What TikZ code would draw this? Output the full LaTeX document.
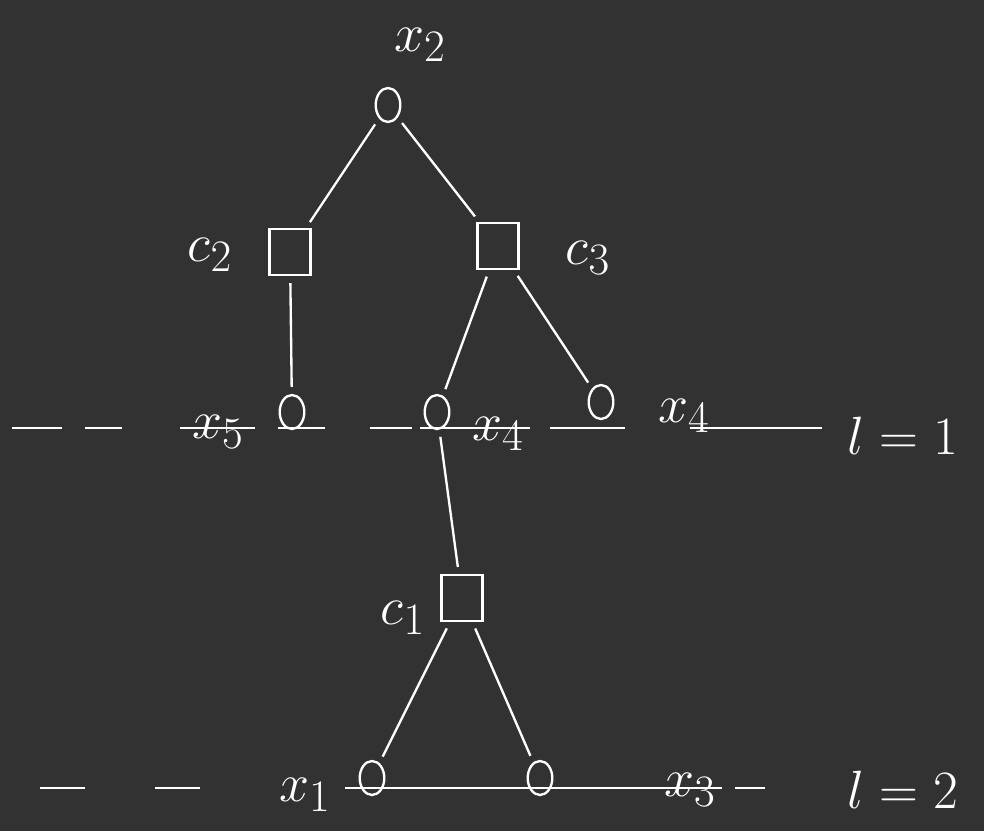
\documentclass[tikz,border=0pt]{standalone}
\usetikzlibrary{shapes.geometric}
\definecolor{board}{RGB}{50,50,50}
\tikzset{
  var/.style={draw=white, ellipse, line width=2pt, minimum width=21pt, minimum height=29pt, inner sep=0pt},
  fac/.style={draw=white, rectangle, line width=2pt, minimum width=35pt, minimum height=39pt, inner sep=0pt},
  lbl/.style={text=white, font=\Huge, scale=1.85},
  edge/.style={draw=white, line width=2pt, shorten >=6pt, shorten <=6pt},
  level/.style={draw=white, line width=1.5pt}
}
\begin{document}
\begin{tikzpicture}[x=0.03cm, y=-0.03cm]
  \fill[board] (0,0) rectangle (984,831);

  % variables and factors
  \node[var] (x2) at (388,105) {};
  \node[fac] (c2) at (290,252) {};
  \node[fac] (c3) at (498,246) {};
  \node[var] (x5) at (292,412) {};
  \node[var] (x4) at (437,412) {};
  \node[var] (x6) at (601,402) {};
  \node[fac] (c1) at (462,598) {};
  \node[var] (x1) at (372,778) {};
  \node[var] (x3) at (540,778) {};

  % labels
  \node[lbl] (lx2) at (420,45) {$x_2$};
  \node[lbl] (lc2) at (210,255) {$c_2$};
  \node[lbl] (lc3) at (588,258) {$c_3$};
  \node[lbl] (lx5) at (218,432) {$x_5$};
  \node[lbl] (lx4) at (498,434) {$x_4$};
  \node[lbl] (lx6) at (684,416) {$x_4$};
  \node[lbl] (ll1) at (903,436) {$l=1$};
  \node[lbl] (lc1) at (403,618) {$c_1$};
  \node[lbl] (lx1) at (305,795) {$x_1$};
  \node[lbl] (lx3) at (690,790) {$x_3$};
  \node[lbl] (ll2) at (903,790) {$l=2$};

  % edges
  \draw[edge] (x2) -- (c2);
  \draw[edge] (x2) -- (c3);
  \draw[edge] (c2) -- (x5);
  \draw[edge] (c3) -- (x4);
  \draw[edge] (c3) -- (x6);
  \draw[edge] (x4) -- (c1);
  \draw[edge] (c1) -- (x1);
  \draw[edge] (c1) -- (x3);

  % levels
  \foreach \a/\b in {12/62, 85/122, 180/255, 278/325, 370/412, 420/530, 550/625, 690/822}
    \draw[level] (\a,428) -- (\b,428);
  \foreach \a/\b in {40/85, 155/200, 345/722, 735/765}
    \draw[level] (\a,788) -- (\b,788);
\end{tikzpicture}
\end{document}
